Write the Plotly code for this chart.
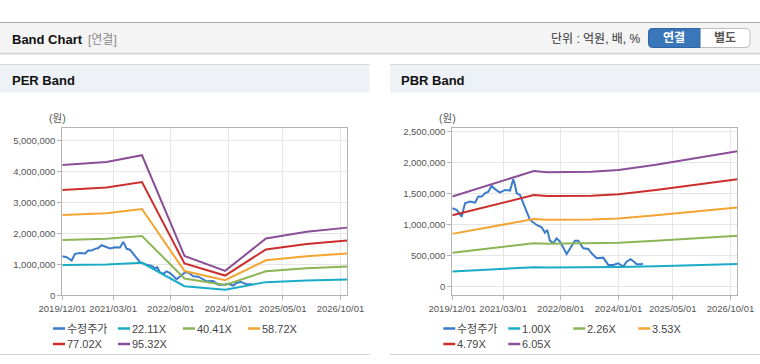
import plotly.graph_objects as go

# ---------------- data ----------------
price_name = "수정주가"
price_dates = ["2019-12-01", "2020-01-09", "2020-02-23", "2020-03-24", "2020-05-08", "2020-06-22",
               "2020-07-21", "2020-08-21", "2020-09-19", "2020-10-19", "2020-11-18", "2020-12-18",
               "2021-02-01", "2021-03-18", "2021-05-02", "2021-05-31", "2021-06-15", "2021-07-01",
               "2021-07-30", "2021-09-13", "2021-10-28", "2021-12-27", "2022-02-10", "2022-03-11",
               "2022-04-01", "2022-04-25", "2022-05-25", "2022-06-24", "2022-07-24", "2022-09-22",
               "2022-11-06", "2022-12-05", "2023-01-04", "2023-02-18", "2023-04-04", "2023-05-04",
               "2023-06-18", "2023-08-16", "2023-09-30", "2023-11-14", "2023-12-29", "2024-02-12",
               "2024-03-13", "2024-04-18", "2024-05-18", "2024-06-11", "2024-07-26", "2024-08-04"]
price_vals = [1262000, 1235000, 1126000, 1343000, 1369000, 1353000,
              1450000, 1450000, 1505000, 1530000, 1623000, 1570000,
              1515000, 1558000, 1547000, 1731000, 1640000, 1505000,
              1477000, 1262000, 1073000, 992000, 955000, 867000,
              911000, 738000, 696000, 777000, 722000, 523000,
              641000, 738000, 738000, 615000, 604000, 534000,
              453000, 463000, 345000, 345000, 372000, 317000,
              398000, 437000, 398000, 356000, 356000, 372000]

per_names = ["22.11X", "40.41X", "58.72X", "77.02X", "95.32X"]
per_dates = ["2019-12-01", "2021-01-01", "2021-11-15", "2022-12-01", "2023-12-01",
             "2024-12-01", "2025-12-01", "2026-12-01"]
per_22 = [979500, 1001600, 1052400, 296300, 183500, 426700, 477600, 508500]
per_40 = [1790200, 1830600, 1923500, 541500, 335400, 779900, 872900, 929400]
per_58 = [2601300, 2660000, 2795100, 786800, 487400, 1133300, 1268400, 1350600]
per_77 = [3412000, 3489000, 3666200, 1032100, 639300, 1486500, 1663600, 1771500]
per_95 = [4222700, 4318000, 4537200, 1277300, 791200, 1839700, 2058900, 2192400]

pbr_names = ["1.00X", "2.26X", "3.53X", "4.79X", "6.05X"]
pbr_dates = ["2019-12-01", "2021-12-01", "2022-04-01", "2023-05-01", "2024-01-01",
             "2024-12-01", "2026-12-01"]
pbr_100 = [240000, 308000, 305000, 306000, 311000, 325000, 361000]
pbr_226 = [542400, 696100, 689300, 691600, 702900, 734500, 815900]
pbr_353 = [847200, 1087200, 1076700, 1080200, 1097800, 1147300, 1274300]
pbr_479 = [1149600, 1475300, 1461000, 1465700, 1489700, 1556800, 1729200]
pbr_605 = [1452000, 1863400, 1845300, 1851300, 1881600, 1966300, 2184100]

x_ticks = ["2019-12-01", "2021-03-01", "2022-08-01", "2024-01-01", "2025-05-01", "2026-10-01"]
x_range = ["2019-12-01", "2026-12-01"]

price_color = "#3a7bcc"
band_colors = ["#1aabc6", "#8cb556", "#f4a431", "#cc2e2e", "#8b4f98"]

W, H = 760, 364
FONT = "Liberation Sans, Arial, 'Noto Sans CJK KR', sans-serif"


def px(x):
    return x / W


def py(y):
    return 1 - y / H


fig = go.Figure()

# ---------------- traces ----------------
per_bands = [per_22, per_40, per_58, per_77, per_95]
pbr_bands = [pbr_100, pbr_226, pbr_353, pbr_479, pbr_605]

fig.add_trace(go.Scatter(x=price_dates, y=price_vals, mode="lines", name=price_name,
                         line=dict(color=price_color, width=2), xaxis="x", yaxis="y"))
for nm, vals, col in zip(per_names, per_bands, band_colors):
    fig.add_trace(go.Scatter(x=per_dates, y=vals, mode="lines", name=nm,
                             line=dict(color=col, width=2), xaxis="x", yaxis="y"))

fig.add_trace(go.Scatter(x=price_dates, y=price_vals, mode="lines", name=price_name,
                         line=dict(color=price_color, width=2), xaxis="x2", yaxis="y2"))
for nm, vals, col in zip(pbr_names, pbr_bands, band_colors):
    fig.add_trace(go.Scatter(x=pbr_dates, y=vals, mode="lines", name=nm,
                             line=dict(color=col, width=2), xaxis="x2", yaxis="y2"))

# ---------------- axes ----------------
def xaxis(domain, anchor):
    return dict(domain=domain, anchor=anchor, type="date", range=x_range,
                tickvals=x_ticks, tickformat="%Y/%m/%d", tickangle=0, automargin=False,
                showgrid=True, gridcolor="#e6e6e6", gridwidth=1,
                showline=True, linecolor="#b4b4b4", linewidth=1, mirror=True,
                ticks="outside", ticklen=4, tickcolor="#b4b4b4",
                tickfont=dict(size=9.5, color="#555555", family=FONT), zeroline=False)


def yaxis(domain, anchor, rng, dtick):
    return dict(domain=domain, anchor=anchor, range=rng, dtick=dtick, tick0=0,
                tickformat=",d", automargin=False,
                showgrid=True, gridcolor="#e6e6e6", gridwidth=1,
                showline=True, linecolor="#b4b4b4", linewidth=1, mirror=True,
                ticks="outside", ticklen=4, tickcolor="#b4b4b4",
                tickfont=dict(size=9.5, color="#555555", family=FONT), zeroline=False)


ydom = [py(295.3), py(128.3)]
fig.update_layout(
    xaxis=xaxis([px(62.3), px(347.3)], "y"),
    yaxis=yaxis(ydom, "x", [0, 5410000], 1000000),
    xaxis2=xaxis([px(452.3), px(737.3)], "y2"),
    yaxis2=yaxis(ydom, "x2", [-146000, 2555000], 500000),
)

# ---------------- page decoration ----------------
shapes = []


def rect(x0, y0, x1, y1, fill, line=None, lw=1, layer="below"):
    shapes.append(dict(type="rect", xref="paper", yref="paper",
                       x0=px(x0), x1=px(x1), y0=py(y1), y1=py(y0),
                       fillcolor=fill, line=dict(color=line or fill, width=lw if line else 0),
                       layer=layer))


def hline(x0, x1, y, color, width=1):
    shapes.append(dict(type="line", xref="paper", yref="paper",
                       x0=px(x0), x1=px(x1), y0=py(y), y1=py(y),
                       line=dict(color=color, width=width), layer="below"))


def rrect_path(x0, y0, x1, y1, rl, rr):
    pts = []
    P = lambda x, y: f"{px(x):.5f},{py(y):.5f}"
    pts.append("M" + P(x0 + rl, y0))
    pts.append("L" + P(x1 - rr, y0))
    if rr:
        pts.append("Q" + P(x1, y0) + " " + P(x1, y0 + rr))
    pts.append("L" + P(x1, y1 - rr))
    if rr:
        pts.append("Q" + P(x1, y1) + " " + P(x1 - rr, y1))
    pts.append("L" + P(x0 + rl, y1))
    if rl:
        pts.append("Q" + P(x0, y1) + " " + P(x0, y1 - rl))
    pts.append("L" + P(x0, y0 + rl))
    if rl:
        pts.append("Q" + P(x0, y0) + " " + P(x0 + rl, y0))
    pts.append("Z")
    return " ".join(pts)


# header bar
rect(0, 22.5, 760, 53, "#f4f4f4")
hline(0, 760, 22.5, "#a9a9a9", 1.2)
hline(0, 760, 53.3, "#c9c9c9", 1)
hline(0, 760, 54.3, "#e6e6e6", 1)
# buttons
shapes.append(dict(type="path", xref="paper", yref="paper",
                   path=rrect_path(648.5, 28.5, 750, 47.5, 4, 4),
                   fillcolor="#ffffff", line=dict(color="#bdbdbd", width=1), layer="below"))
shapes.append(dict(type="path", xref="paper", yref="paper",
                   path=rrect_path(648.5, 28.5, 700, 47.5, 4, 0),
                   fillcolor="#3a77ba", line=dict(color="#2f66a3", width=1), layer="below"))

# panel title bars
for (a, b) in [(0, 369.5), (390, 760)]:
    rect(a, 64.5, b, 92.7, "#eef2f7")
    hline(a, b, 64.5, "#d9d9d9", 1)
    hline(a, b, 354.5, "#d0d0d0", 1.2)

# legends (drawn manually)
annotations = []


def text(x, y, s, size=11, color="#333333", xanchor="left", bold=False):
    annotations.append(dict(xref="paper", yref="paper", x=px(x), y=py(y),
                            text=f"<b>{s}</b>" if bold else s, showarrow=False,
                            xanchor=xanchor, yanchor="middle", borderpad=0,
                            font=dict(size=size, color=color, family=FONT)))


def legend(x_start, names, colors):
    for i, (nm, col) in enumerate(zip(names, colors)):
        row, colidx = divmod(i, 4)
        x = x_start + colidx * 65
        y = 328.5 + row * 15.5
        shapes.append(dict(type="line", xref="paper", yref="paper",
                           x0=px(x), x1=px(x + 12), y0=py(y), y1=py(y),
                           line=dict(color=col, width=2.5), layer="above"))
        text(x + 13, y, nm, size=11, color="#444444")


legend(53, [price_name] + per_names, [price_color] + band_colors)
legend(443.3, [price_name] + pbr_names, [price_color] + band_colors)

text(11, 39.5, "Band Chart", size=13, color="#111111", bold=True)
text(87, 39.5, "[연결]", size=12, color="#8a8a8a")
text(642, 39, "단위 : 억원, 배, %", size=12, color="#333333", xanchor="right")
text(674.2, 38, "연결", size=12, color="#ffffff", xanchor="center", bold=True)
text(725, 38, "별도", size=12, color="#555555", xanchor="center", bold=True)
text(11, 80, "PER Band", size=13, color="#111111", bold=True)
text(400.5, 80, "PBR Band", size=13, color="#111111", bold=True)
text(57.5, 118, "(원)", size=10.5, color="#555555", xanchor="center")
text(447.5, 118, "(원)", size=10.5, color="#555555", xanchor="center")

fig.update_layout(width=W, height=H, margin=dict(l=0, r=0, t=0, b=0, autoexpand=False),
                  paper_bgcolor="#ffffff", plot_bgcolor="#ffffff",
                  showlegend=False, shapes=shapes, annotations=annotations,
                  font=dict(family=FONT))

fig.write_html("out.html",
               config={"responsive": False, "displayModeBar": False},
               post_script="document.body.style.margin='0';document.body.style.overflow='hidden';")
